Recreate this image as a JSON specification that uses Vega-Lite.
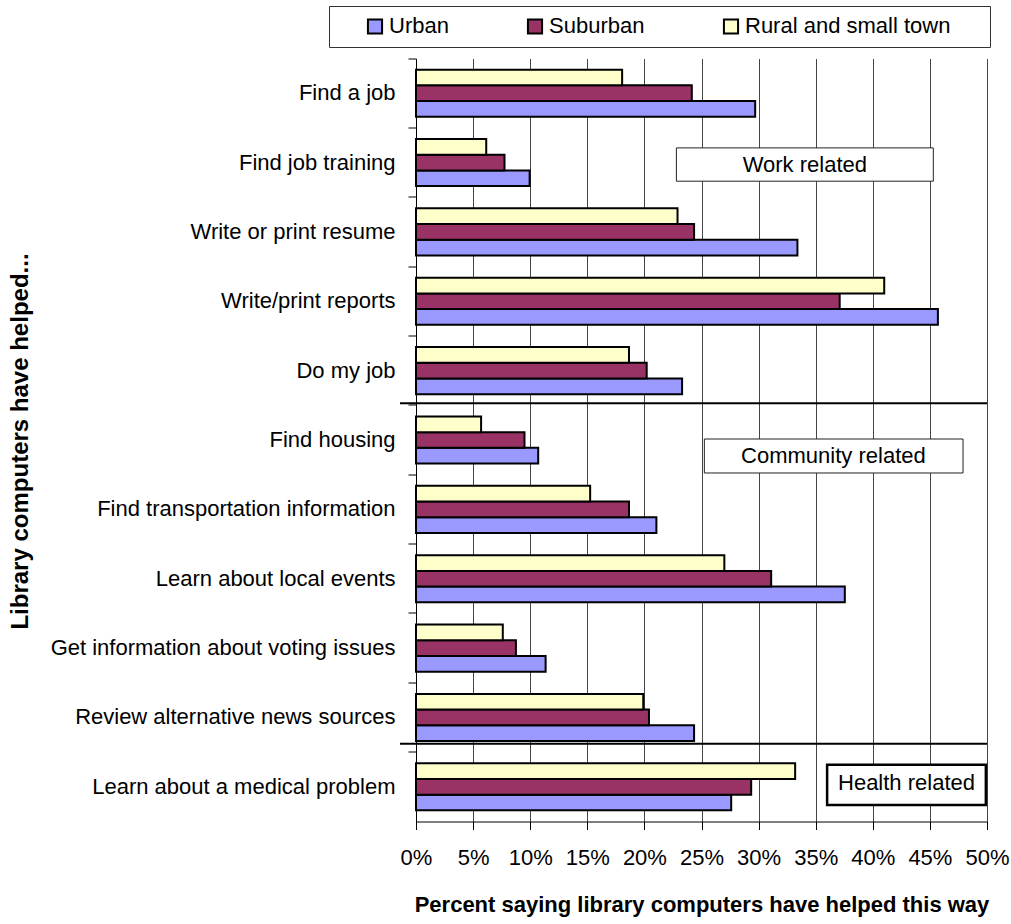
{
  "$schema": "https://vega.github.io/schema/vega-lite/v6.json",
  "width": 571,
  "height": 763,
  "autosize": {"type": "none"},
  "padding": {"left": 416, "top": 58.5, "right": 24, "bottom": 102.5},
  "background": "white",
  "config": {"view": {"stroke": null}, "font": "Liberation Sans"},
  "datasets": {
    "bars": [
      {"category": "Find a job", "area": "Urban", "value": 29.7},
      {"category": "Find a job", "area": "Suburban", "value": 24.15},
      {"category": "Find a job", "area": "Rural and small town", "value": 18.05},
      {"category": "Find job training", "area": "Urban", "value": 9.95},
      {"category": "Find job training", "area": "Suburban", "value": 7.75},
      {"category": "Find job training", "area": "Rural and small town", "value": 6.15},
      {"category": "Write or print resume", "area": "Urban", "value": 33.4},
      {"category": "Write or print resume", "area": "Suburban", "value": 24.35},
      {"category": "Write or print resume", "area": "Rural and small town", "value": 22.9},
      {"category": "Write/print reports", "area": "Urban", "value": 45.7},
      {"category": "Write/print reports", "area": "Suburban", "value": 37.1},
      {"category": "Write/print reports", "area": "Rural and small town", "value": 41.0},
      {"category": "Do my job", "area": "Urban", "value": 23.3},
      {"category": "Do my job", "area": "Suburban", "value": 20.2},
      {"category": "Do my job", "area": "Rural and small town", "value": 18.65},
      {"category": "Find housing", "area": "Urban", "value": 10.7},
      {"category": "Find housing", "area": "Suburban", "value": 9.5},
      {"category": "Find housing", "area": "Rural and small town", "value": 5.7},
      {"category": "Find transportation information", "area": "Urban", "value": 21.05},
      {"category": "Find transportation information", "area": "Suburban", "value": 18.65},
      {"category": "Find transportation information", "area": "Rural and small town", "value": 15.25},
      {"category": "Learn about local events", "area": "Urban", "value": 37.55},
      {"category": "Learn about local events", "area": "Suburban", "value": 31.1},
      {"category": "Learn about local events", "area": "Rural and small town", "value": 27.0},
      {"category": "Get information about voting issues", "area": "Urban", "value": 11.35},
      {"category": "Get information about voting issues", "area": "Suburban", "value": 8.75},
      {"category": "Get information about voting issues", "area": "Rural and small town", "value": 7.6},
      {"category": "Review alternative news sources", "area": "Urban", "value": 24.35},
      {"category": "Review alternative news sources", "area": "Suburban", "value": 20.4},
      {"category": "Review alternative news sources", "area": "Rural and small town", "value": 19.9},
      {"category": "Learn about a medical problem", "area": "Urban", "value": 27.6},
      {"category": "Learn about a medical problem", "area": "Suburban", "value": 29.35},
      {"category": "Learn about a medical problem", "area": "Rural and small town", "value": 33.2}
    ],
    "notes": [
      {"label": "Work related", "category": "Find job training", "x1": 22.8, "x2": 45.3, "xc": 34.05},
      {"label": "Community related", "category": "Find housing", "x1": 25.25, "x2": 47.9, "xc": 36.55},
      {"label": "Health related", "category": "Learn about a medical problem", "x1": 36.0, "x2": 49.9, "xc": 42.95}
    ]
  },
  "layer": [
    {
      "data": {"name": "bars"},
      "mark": {"type": "bar", "stroke": "black", "strokeWidth": 2, "strokeJoin": "miter"},
      "encoding": {
        "y": {
          "field": "category", "type": "nominal",
          "scale": {
            "domain": ["Find a job", "Find job training", "Write or print resume", "Write/print reports", "Do my job", "Find housing", "Find transportation information", "Learn about local events", "Get information about voting issues", "Review alternative news sources", "Learn about a medical problem"],
            "paddingInner": 0, "paddingOuter": 0
          },
          "axis": {
            "title": "Library computers have helped...",
            "bandPosition": 0,
            "tickSize": 8, "tickColor": "black",
            "domainColor": "black", "domainWidth": 1,
            "labelFontSize": 22, "labelColor": "black", "labelPadding": 13, "labelLimit": 0,
            "titleFontSize": 24, "titleFontWeight": "bold", "titleColor": "black",
            "titleX": -396, "titleY": 382.5, "titleAngle": 270, "titleAlign": "center", "titleBaseline": "middle"
          }
        },
        "x": {
          "field": "value", "type": "quantitative",
          "scale": {"domain": [0, 50], "nice": false},
          "axis": {
            "title": "Percent saying library computers have helped this way",
            "values": [0, 5, 10, 15, 20, 25, 30, 35, 40, 45, 50],
            "labelExpr": "datum.value + '%'",
            "grid": true, "gridColor": "#444444", "gridWidth": 1,
            "tickSize": 8, "tickColor": "black",
            "domainColor": "black", "domainWidth": 1,
            "labelFontSize": 22, "labelColor": "black", "labelPadding": 18, "labelFlush": false,
            "titleFontSize": 22, "titleFontWeight": "bold", "titleColor": "black", "titlePadding": 26
          }
        },
        "color": {
          "field": "area", "type": "nominal",
          "scale": {"domain": ["Urban", "Suburban", "Rural and small town"], "range": ["#9999FF", "#993366", "#FFFFCC"]},
          "legend": {
            "orient": "none", "legendX": -87, "legendY": -52.5,
            "direction": "horizontal", "columns": 3, "columnPadding": 74,
            "title": " ", "titleOrient": "left", "titleFontSize": 22, "titlePadding": 26,
            "labelFontSize": 22, "labelColor": "black", "labelOffset": 3, "labelLimit": 0,
            "labelExpr": "datum.label == 'Rural and small town' ? datum.label + '     \u200b' : datum.label",
            "symbolType": "square", "symbolSize": 200, "symbolStrokeColor": "black", "symbolStrokeWidth": 2, "symbolOpacity": 1,
            "strokeColor": "#333333", "fillColor": "white", "padding": 9
          }
        },
        "yOffset": {
          "field": "area", "type": "nominal",
          "sort": ["Rural and small town", "Suburban", "Urban"],
          "scale": {"paddingInner": 0, "paddingOuter": 0.71}
        }
      }
    },
    {
      "data": {"name": "notes"},
      "transform": [{"filter": "datum.label == 'Work related'"}],
      "mark": {"type": "bar", "fill": "white", "stroke": "#222222", "strokeWidth": 1, "height": {"band": 0.48}, "yOffset": 2},
      "encoding": {
        "y": {"field": "category", "type": "nominal"},
        "x": {"field": "x1", "type": "quantitative"},
        "x2": {"field": "x2"}
      }
    },
    {
      "data": {"name": "notes"},
      "transform": [{"filter": "datum.label == 'Work related'"}],
      "mark": {"type": "text", "fontSize": 22, "color": "black", "yOffset": 2},
      "encoding": {
        "y": {"field": "category", "type": "nominal"},
        "x": {"field": "xc", "type": "quantitative"},
        "text": {"field": "label"}
      }
    },
    {
      "data": {"name": "notes"},
      "transform": [{"filter": "datum.label == 'Community related'"}],
      "mark": {"type": "bar", "fill": "white", "stroke": "#222222", "strokeWidth": 1, "height": {"band": 0.49}, "yOffset": 16},
      "encoding": {
        "y": {"field": "category", "type": "nominal"},
        "x": {"field": "x1", "type": "quantitative"},
        "x2": {"field": "x2"}
      }
    },
    {
      "data": {"name": "notes"},
      "transform": [{"filter": "datum.label == 'Community related'"}],
      "mark": {"type": "text", "fontSize": 22, "color": "black", "yOffset": 16},
      "encoding": {
        "y": {"field": "category", "type": "nominal"},
        "x": {"field": "xc", "type": "quantitative"},
        "text": {"field": "label"}
      }
    },
    {
      "data": {"name": "notes"},
      "transform": [{"filter": "datum.label == 'Health related'"}],
      "mark": {"type": "bar", "fill": "white", "stroke": "black", "strokeWidth": 2.5, "height": {"band": 0.58}, "yOffset": -2},
      "encoding": {
        "y": {"field": "category", "type": "nominal"},
        "x": {"field": "x1", "type": "quantitative"},
        "x2": {"field": "x2"}
      }
    },
    {
      "data": {"name": "notes"},
      "transform": [{"filter": "datum.label == 'Health related'"}],
      "mark": {"type": "text", "fontSize": 22, "color": "black", "yOffset": -4},
      "encoding": {
        "y": {"field": "category", "type": "nominal"},
        "x": {"field": "xc", "type": "quantitative"},
        "text": {"field": "label"}
      }
    },
    {
      "data": {"values": [{"category": "Do my job"}]},
      "mark": {"type": "rule", "stroke": "black", "strokeWidth": 2},
      "encoding": {
        "y": {"field": "category", "type": "nominal", "bandPosition": 0.97},
        "x": {"datum": -1.4, "type": "quantitative"},
        "x2": {"datum": 50}
      }
    },
    {
      "data": {"values": [{"category": "Review alternative news sources"}]},
      "mark": {"type": "rule", "stroke": "black", "strokeWidth": 2},
      "encoding": {
        "y": {"field": "category", "type": "nominal", "bandPosition": 0.88},
        "x": {"datum": -1.4, "type": "quantitative"},
        "x2": {"datum": 50}
      }
    }
  ]
}
